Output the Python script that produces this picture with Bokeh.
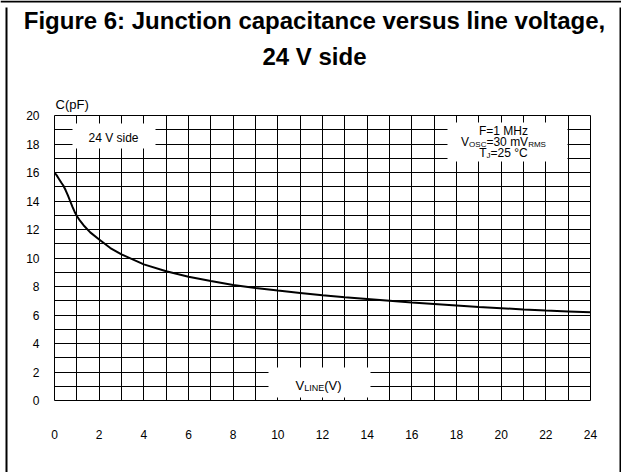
from bokeh.plotting import figure
from bokeh.models import Range1d, FixedTicker, Label, BoxAnnotation
from bokeh.core.properties import value
from bokeh.embed import file_html
from bokeh.resources import INLINE

# ---- data ----
voltage = [0, 0.1, 0.2, 0.3, 0.4, 0.5, 0.6, 0.7, 0.8, 0.9, 1.0, 1.15, 1.3, 1.6,
           2, 2.5, 3, 4, 5, 6, 7, 8, 9, 10, 11, 12, 13, 14, 15, 16, 17, 18, 19,
           20, 21, 22, 23, 24]
capacitance = [16.0, 15.8, 15.55, 15.3, 15.07, 14.75, 14.4, 14.0, 13.6, 13.25,
               12.95, 12.6, 12.3, 11.8, 11.3, 10.7, 10.25, 9.55, 9.07, 8.68,
               8.38, 8.1, 7.9, 7.72, 7.55, 7.38, 7.25, 7.13, 7.0, 6.87, 6.77,
               6.67, 6.57, 6.48, 6.39, 6.31, 6.25, 6.19]
x_ticks = [0, 2, 4, 6, 8, 10, 12, 14, 16, 18, 20, 22, 24]
y_ticks = [0, 2, 4, 6, 8, 10, 12, 14, 16, 18, 20]
x_grid = list(range(0, 25))
y_grid = list(range(0, 21))
title_lines = ["Figure 6: Junction capacitance versus line voltage,", "24 V side"]
y_name = "C(pF)"

# ---- layout ----
W, H = 621, 472
FL, FR, FT, FB = 54, 590, 115, 400   # plot frame edges in canvas pixels
X0, X1, Y0, Y1 = 0, 24, 0, 20
FONT = "Liberation Sans"


def dx(px):
    return X0 + (px - FL) / (FR - FL) * (X1 - X0)


def dy(py):
    return Y0 + (FB - py) / (FB - FT) * (Y1 - Y0)


ARIAL = {'V': 667, 'O': 778, 'S': 667, 'C': 722, '=': 584, '3': 556, '0': 556,
         ' ': 278, 'm': 833, 'R': 722, 'M': 833, 'T': 611, 'J': 500, '2': 556,
         '5': 556, '°': 400, 'L': 556, 'I': 278, 'N': 722, 'E': 667, '(': 333,
         ')': 333, 'F': 611, '1': 556, 'H': 722, 'z': 500}


def tw(s, size):
    return sum(ARIAL.get(c, 556) for c in s) * size / 1000.0


# ---------- background page: frame lines, title, axis name ----------
bg = figure(width=W, height=H, output_backend="svg", toolbar_location=None,
            title=None, x_range=Range1d(0, W), y_range=Range1d(H, 0),
            min_border=0, x_axis_type=None, y_axis_type=None)
bg.outline_line_color = None
bg.background_fill_color = "white"
bg.border_fill_color = "white"
bg.styles = {"position": "absolute", "left": "0px", "top": "0px", "z-index": "0"}

bg.quad(left=[0, 5, 619], right=[621, 7, 621], top=[0, 7, 7], bottom=[2, H, H],
        fill_color="black", line_color=None)
bg.text(x=[314, 314], y=[19.5, 55.5], text=title_lines, text_font=value(FONT),
        text_font_size="24px", text_font_style="bold", text_align="center",
        text_baseline="middle", text_color="black")
bg.text(x=[55], y=[103.5], text=[y_name], text_font=value(FONT),
        text_font_size="13px", text_align="left", text_baseline="middle",
        text_color="black")

# ---------- chart ----------
p = figure(width=W, height=H, output_backend="svg", toolbar_location=None,
           x_range=Range1d(X0, X1), y_range=Range1d(Y0, Y1),
           min_border_left=FL, min_border_right=W - FR,
           min_border_top=FT, min_border_bottom=H - FB)
p.styles = {"position": "absolute", "left": "0px", "top": "0px", "z-index": "1"}
p.background_fill_color = "white"
p.border_fill_alpha = 0.0
p.outline_line_color = "black"
p.outline_line_width = 1

for ax, ticks, standoff in ((p.xaxis, x_ticks, 29), (p.yaxis, y_ticks, 15)):
    ax.ticker = FixedTicker(ticks=ticks)
    ax.axis_line_color = None
    ax.major_tick_line_color = None
    ax.minor_tick_line_color = None
    ax.major_tick_in = 0
    ax.major_tick_out = 0
    ax.major_label_standoff = standoff
    ax.major_label_text_font = FONT
    ax.major_label_text_font_size = "12px"
    ax.major_label_text_color = "black"

p.xgrid.ticker = FixedTicker(ticks=x_grid)
p.ygrid.ticker = FixedTicker(ticks=y_grid)
for g in (p.xgrid, p.ygrid):
    g.grid_line_color = "black"
    g.grid_line_alpha = 1.0
    g.grid_line_width = 1

p.line(voltage, capacitance, line_color="black", line_width=2)

# white label boxes that cover the grid
for l, r, t, b in ((72, 155, 123, 148), (447, 567, 122, 161), (268, 370, 367, 397)):
    p.add_layout(BoxAnnotation(left=dx(l), right=dx(r), top=dy(t), bottom=dy(b),
                               fill_color="white", fill_alpha=1.0, line_color=None))


def lab(x, y, text, size, align="left"):
    p.add_layout(Label(x=dx(x), y=dy(y), text=text, text_font=FONT,
                       text_font_size=f"{size}px", text_align=align,
                       text_baseline="middle", text_color="black"))


lab(113, 137, "24 V side", 12, "center")

S, SS = 12, 8
cx = 503
lab(cx, 130, "F=1 MHz", S, "center")

parts = [("V", S, 0), ("OSC", SS, 3), ("=30 mV", S, 0), ("RMS", SS, 3)]
x = cx - sum(tw(t, s) for t, s, _ in parts) / 2
for t, s, off in parts:
    lab(x, 141 + off, t, s)
    x += tw(t, s)

parts = [("T", S, 0), ("J", SS, 3), ("=25 °C", S, 0)]
x = cx - sum(tw(t, s) for t, s, _ in parts) / 2
for t, s, off in parts:
    lab(x, 152 + off, t, s)
    x += tw(t, s)

parts = [("V", 13, 0), ("LINE", 9, 2.5), ("(V)", 13, 0)]
x = 318 - sum(tw(t, s) for t, s, _ in parts) / 2
for t, s, off in parts:
    lab(x, 384.5 + off, t, s)
    x += tw(t, s)

open("out.html", "w").write(file_html([bg, p], INLINE))
